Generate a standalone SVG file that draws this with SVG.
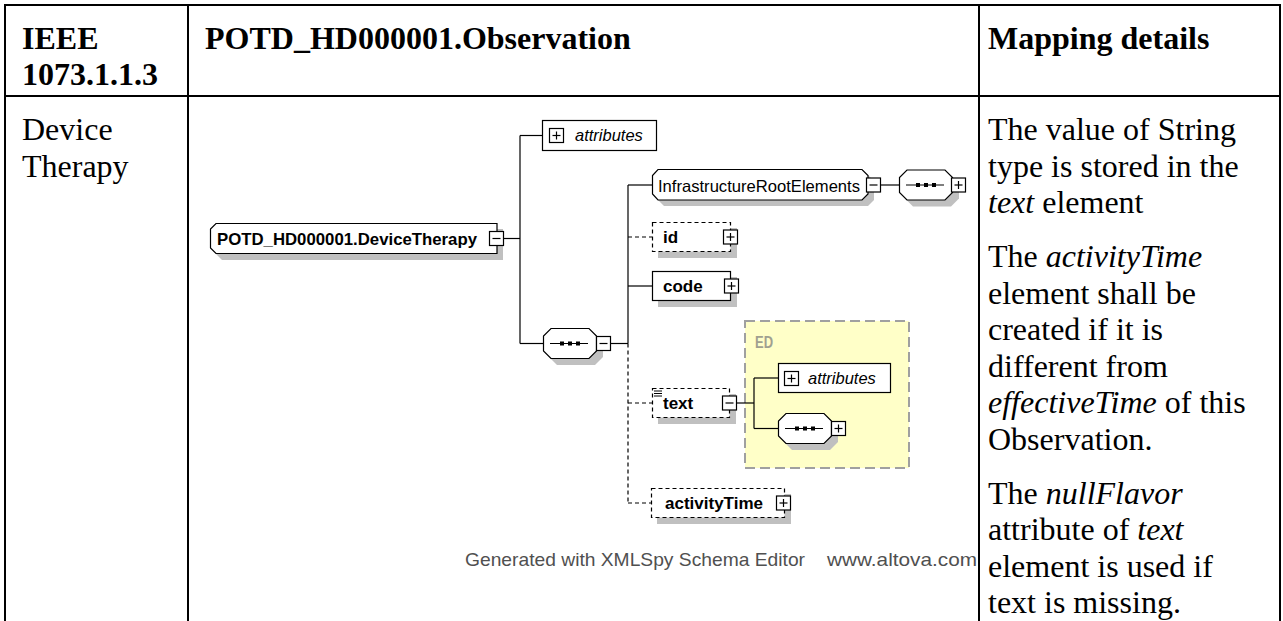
<svg xmlns="http://www.w3.org/2000/svg" xmlns:xlink="http://www.w3.org/1999/xlink" width="1283" height="621" viewBox="0 0 1283 621">
<style>
.tb{font-family:"Liberation Serif","Times New Roman",serif;font-size:32px;fill:#000}
.b{font-weight:bold}
.i{font-style:italic}
.grid line{stroke:#000;stroke-width:2}
.sch{font-family:"Liberation Sans",Arial,sans-serif;fill:#000}
.nm{font-size:17px;font-weight:bold}
.rg{font-size:16.5px}
.at{font-size:16.5px;font-style:italic}
.el{fill:#fff;stroke:#000;stroke-width:1.2}
.opt{fill:#fff;stroke:#000;stroke-width:1.2;stroke-dasharray:4 3}
.sh{fill:#c0c0c0;stroke:none}
.conn{stroke:#000;stroke-width:1.2;fill:none}
.dash{stroke-dasharray:4 3}
.ft{font-family:"Liberation Sans",Arial,sans-serif;font-size:19px;fill:#505050}
</style>
<defs>
<g id="pl"><rect x="0.5" y="0.5" width="14" height="14" fill="#fff" stroke="#000" stroke-width="1.2"/><line x1="3.5" y1="7.5" x2="11.5" y2="7.5" stroke="#000" stroke-width="1.2"/><line x1="7.5" y1="3.5" x2="7.5" y2="11.5" stroke="#000" stroke-width="1.2"/></g>
<g id="mi"><rect x="0.5" y="0.5" width="14" height="14" fill="#fff" stroke="#000" stroke-width="1.2"/><line x1="3.5" y1="7.5" x2="11.5" y2="7.5" stroke="#000" stroke-width="1.2"/></g>
<g id="seq">
<polygon class="sh" points="14,6 52,6 60,14 60,29 52,37 14,37 6,29 6,14"/>
<polygon class="el" points="8,0.5 46,0.5 53.5,8 53.5,23 46,30.5 8,30.5 0.5,23 0.5,8"/>
<line x1="7" y1="15.5" x2="45" y2="15.5" stroke="#000" stroke-width="1.2"/>
<rect x="17" y="13.5" width="4" height="4" fill="#000"/><rect x="25" y="13.5" width="4" height="4" fill="#000"/><rect x="33" y="13.5" width="4" height="4" fill="#000"/>
</g>
</defs>

<g id="table" class="grid">
<line x1="4" y1="5" x2="1281" y2="5"/>
<line x1="4" y1="96" x2="1281" y2="96"/>
<line x1="5" y1="4" x2="5" y2="621"/>
<line x1="188" y1="4" x2="188" y2="621"/>
<line x1="979" y1="4" x2="979" y2="621"/>
<line x1="1280" y1="4" x2="1280" y2="621"/>
</g>

<g id="header" class="tb b">
<text x="22" y="49">IEEE</text>
<text x="22" y="85">1073.1.1.3</text>
<text x="205" y="49">POTD_HD000001.Observation</text>
<text x="988" y="49">Mapping details</text>
</g>

<g id="col1" class="tb">
<text x="22" y="140">Device</text>
<text x="22" y="176.6">Therapy</text>
</g>

<g id="col3" class="tb">
<text x="988" y="140">The value of String</text>
<text x="988" y="176.6">type is stored in the</text>
<text x="988" y="213.2"><tspan class="i">text</tspan> element</text>
<text x="988" y="267">The <tspan class="i">activityTime</tspan></text>
<text x="988" y="303.6">element shall be</text>
<text x="988" y="340.2">created if it is</text>
<text x="988" y="376.8">different from</text>
<text x="988" y="413.4"><tspan class="i">effectiveTime</tspan> of this</text>
<text x="988" y="450">Observation.</text>
<text x="988" y="503.5">The <tspan class="i">nullFlavor</tspan></text>
<text x="988" y="540.1">attribute of <tspan class="i">text</tspan></text>
<text x="988" y="576.7">element is used if</text>
<text x="988" y="613.3">text is missing.</text>
</g>

<g id="connectors">
<line class="conn" x1="504" y1="238.5" x2="520" y2="238.5"/>
<line class="conn" x1="520" y1="135.5" x2="520" y2="343.5"/>
<line class="conn" x1="520" y1="135.5" x2="542" y2="135.5"/>
<line class="conn" x1="520" y1="343.5" x2="543" y2="343.5"/>
<line class="conn" x1="611" y1="343.5" x2="628" y2="343.5"/>
<line class="conn" x1="628" y1="185" x2="628" y2="343.5"/>
<line class="conn dash" x1="628" y1="343.5" x2="628" y2="503"/>
<line class="conn" x1="628" y1="185" x2="652" y2="185"/>
<line class="conn dash" x1="628" y1="237" x2="652" y2="237"/>
<line class="conn" x1="628" y1="286" x2="652" y2="286"/>
<line class="conn dash" x1="628" y1="403" x2="652" y2="403"/>
<line class="conn dash" x1="628" y1="503" x2="651" y2="503"/>
<line class="conn" x1="881" y1="185" x2="900" y2="185"/>
</g>

<g id="ED">
<rect x="745" y="321" width="164" height="147" fill="#ffffc8" stroke="#a0a0a0" stroke-width="2" stroke-dasharray="10 5"/>
<text x="755" y="348" font-family="'Liberation Sans',Arial,sans-serif" font-size="16" font-weight="bold" fill="#a0a090" textLength="18" lengthAdjust="spacingAndGlyphs">ED</text>
<line class="conn" x1="736" y1="403" x2="754" y2="403"/>
<line class="conn" x1="754" y1="378" x2="754" y2="428.5"/>
<line class="conn" x1="754" y1="378" x2="778" y2="378"/>
<line class="conn" x1="754" y1="428.5" x2="778" y2="428.5"/>
</g>

<g id="attributes-top" class="sch">
<rect class="el" x="542.5" y="120.5" width="114" height="30"/>
<use xlink:href="#pl" x="549" y="128"/>
<text class="at" x="575" y="141">attributes</text>
</g>

<g id="DeviceTherapy" class="sch">
<polygon class="sh" points="222,229 503,229 503,260 222,260 216,254 216,235"/>
<polygon class="el" points="216,223.5 497,223.5 497,253.5 216,253.5 210.5,248 210.5,229"/>
<text class="nm" x="217" y="244.5" textLength="260" lengthAdjust="spacingAndGlyphs">POTD_HD000001.DeviceTherapy</text>
<use xlink:href="#mi" x="489" y="231"/>
</g>

<g id="seq-main">
<use xlink:href="#seq" x="543" y="328"/>
<use xlink:href="#mi" x="596" y="336"/>
</g>

<g id="InfrastructureRootElements" class="sch">
<polygon class="sh" points="664,175 868,175 874,181 874,200 868,206 664,206 658,200 658,181"/>
<polygon class="el" points="658,169.5 862,169.5 868,175.5 868,194 862,200 658,200 652.5,194 652.5,175.5"/>
<text class="rg" x="658" y="191.5" textLength="202" lengthAdjust="spacingAndGlyphs">InfrastructureRootElements</text>
<use xlink:href="#mi" x="866" y="177.5"/>
</g>

<g id="seq-infra">
<use xlink:href="#seq" x="899" y="169.5"/>
<use xlink:href="#pl" x="951" y="177.5"/>
</g>

<g id="id" class="sch">
<rect class="sh" x="658" y="228" width="79" height="30"/>
<rect class="opt" x="652.5" y="222.5" width="78" height="29"/>
<text class="nm" x="663" y="243">id</text>
<use xlink:href="#pl" x="723" y="229.5"/>
</g>

<g id="code" class="sch">
<rect class="sh" x="658" y="277" width="79" height="30"/>
<rect class="el" x="652.5" y="271.5" width="78" height="29"/>
<text class="nm" x="663" y="292">code</text>
<use xlink:href="#pl" x="724" y="278.5"/>
</g>

<g id="text" class="sch">
<rect class="sh" x="658" y="394" width="78" height="30"/>
<rect class="opt" x="652.5" y="388.5" width="77" height="29"/>
<line x1="654" y1="391" x2="662" y2="391" stroke="#000" stroke-width="1"/>
<line x1="654" y1="393.5" x2="662" y2="393.5" stroke="#000" stroke-width="1"/>
<line x1="654" y1="396" x2="662" y2="396" stroke="#000" stroke-width="1"/>
<text class="nm" x="663" y="409">text</text>
<use xlink:href="#mi" x="722" y="395.5"/>
</g>

<g id="attributes-ED" class="sch">
<rect class="el" x="778.5" y="363.5" width="112" height="29"/>
<use xlink:href="#pl" x="784" y="371"/>
<text class="at" x="808" y="384">attributes</text>
</g>

<g id="seq-ED">
<use xlink:href="#seq" x="778" y="413"/>
<use xlink:href="#pl" x="831" y="421"/>
</g>

<g id="activityTime" class="sch">
<rect class="sh" x="657" y="494" width="134" height="30"/>
<rect class="opt" x="651.5" y="488.5" width="133" height="29"/>
<text class="nm" x="665" y="509">activityTime</text>
<use xlink:href="#pl" x="776" y="495.5"/>
</g>

<g id="footer">
<text class="ft" x="465" y="566" textLength="340" lengthAdjust="spacingAndGlyphs">Generated with XMLSpy Schema Editor</text>
<text class="ft" x="827" y="566" textLength="150" lengthAdjust="spacingAndGlyphs">www.altova.com</text>
</g>
</svg>
